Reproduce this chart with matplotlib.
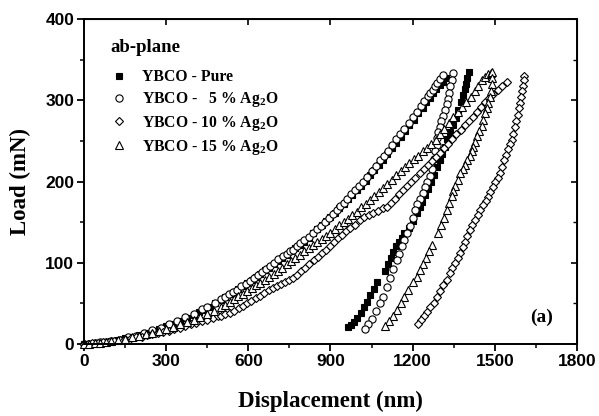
import matplotlib

matplotlib.use("Agg")
import matplotlib.pyplot as plt  # noqa: E402
from matplotlib.ticker import MultipleLocator  # noqa: E402

plt.rcParams["font.family"] = ["Liberation Serif", "DejaVu Serif"]
plt.rcParams["font.weight"] = "bold"
plt.rcParams["mathtext.fontset"] = "custom"
plt.rcParams["mathtext.rm"] = "Liberation Serif:bold"
plt.rcParams["mathtext.it"] = "Liberation Serif:bold"
plt.rcParams["mathtext.bf"] = "Liberation Serif:bold"

# --- data (displacement nm, load mN) ---
pure_load_x = [0, 25, 50, 75, 100, 125, 150, 175, 200, 225, 250, 275, 300, 325, 350, 375, 400, 420, 440,
               460, 480,
               500, 516, 532, 548, 564, 580, 596, 612, 628, 644, 660, 676, 692, 708, 724, 740, 756, 772,
               788, 804, 820, 836, 852, 868, 884, 900, 916, 932, 948, 964, 980, 996, 1012, 1028, 1044,
               1060, 1076, 1092, 1108, 1124, 1140, 1156, 1172, 1188, 1204, 1220, 1236, 1250, 1262, 1274,
               1286, 1298, 1310, 1320]
pure_load_y = [0, 0.5, 1.5, 2.5, 3.5, 5, 7, 9, 11, 13, 16, 19, 22, 25, 28, 32, 36, 39, 42,
               46, 50,
               54, 57.5, 61, 64.5, 68, 71.5, 75, 79, 83, 86.5, 90.5, 94, 98, 102, 106, 110, 114, 118,
               122, 126, 131, 136, 141, 146, 151, 156, 161, 167, 172, 178, 183, 189, 195, 201, 208,
               214, 220, 227, 234, 241, 248, 255, 262, 269, 276, 284, 291, 298, 303, 309,
               314, 319, 323, 327]
pure_unload_x = [1405, 1400, 1395, 1390, 1383, 1375, 1366, 1357, 1347, 1337, 1327, 1318, 1308, 1298, 1289,
                 1278, 1268, 1257, 1246, 1235, 1225, 1215, 1200, 1185, 1170, 1160, 1150, 1140, 1130, 1120,
                 1110, 1100, 1070, 1058, 1046, 1034, 1022, 1010, 998, 986, 975, 965]
pure_unload_y = [335, 327, 320, 314, 306, 298, 288, 278, 269, 261, 252, 243, 234, 226, 218,
                 208, 199, 191, 183, 175, 168, 161, 151, 143, 136, 130, 126, 120, 113, 106,
                 98, 90, 76, 68, 60, 52, 45, 38, 32, 27, 23, 21]

ag5_load_x = [0, 20, 40, 60, 80, 100, 130, 160, 190, 220, 250, 280, 310, 340, 370, 400, 430, 450, 480,
              500, 515, 530, 545, 560, 575, 590, 605, 620, 635, 650, 665, 680, 695, 710, 725, 740, 752,
              763, 777, 790, 805, 820, 835, 850, 865, 880, 895, 910, 922, 935, 948, 960, 975, 990, 1005,
              1020, 1035, 1050, 1065, 1081, 1095, 1110, 1125, 1140, 1155, 1170, 1185, 1201, 1215, 1230,
              1243, 1255, 1265, 1274, 1282, 1290, 1300, 1311]
ag5_load_y = [0, 0.5, 1, 2, 3, 4, 5.5, 8, 10, 13, 17, 20, 24, 28, 33, 37, 43, 46, 51,
              55, 58, 61, 64, 67, 71, 74, 78, 81, 85, 88, 92, 96, 100, 104, 108, 111, 114,
              116, 120, 124, 128, 132, 137, 141, 145, 150, 155, 160, 165, 170, 174, 178, 184, 189, 195,
              200, 206, 213, 219, 226, 232, 238, 245, 252, 258, 265, 272, 279, 286, 293,
              299, 305, 309, 313, 317, 321, 326, 331]
ag5_unload_x = [1347, 1343, 1338, 1333, 1329, 1325, 1318, 1311, 1305, 1300, 1294, 1290, 1287, 1283, 1278,
                1270, 1262, 1254, 1245, 1236, 1226, 1217, 1208, 1200, 1190, 1179, 1170, 1161, 1150, 1142,
                1130, 1118, 1105, 1092, 1080, 1065, 1050, 1038, 1026]
ag5_unload_y = [333, 325, 317, 309, 302, 296, 288, 281, 274, 267, 261, 253, 245, 237, 228,
                216, 207, 200, 193, 186, 179, 172, 165, 155, 145, 137, 128, 120, 111, 103,
                92, 81, 70, 58, 50, 40, 31, 25, 19]

ag10_load_x = [0, 15, 30, 50, 70, 90, 110, 130, 150, 170, 190, 210, 230, 250, 270, 290, 310, 330, 350,
               370, 390, 410, 430, 450, 470, 490,
               500, 516, 533, 549, 565, 580, 595, 611, 627, 643, 659, 675, 690, 705, 720, 735, 750, 763,
               778, 793, 808, 823, 838, 853, 868, 883, 898, 913, 928, 943, 958, 973, 988, 1008, 1024,
               1040, 1056, 1072, 1090, 1106, 1120, 1135, 1150, 1165, 1180, 1195, 1210, 1227, 1242, 1257,
               1272, 1286, 1300, 1315, 1330, 1345, 1360, 1375, 1390, 1405, 1420, 1435, 1450, 1465, 1480,
               1495, 1510, 1525, 1544]
ag10_load_y = [0, 0.5, 1, 1.5, 2, 3, 4, 5, 6, 7, 8, 9, 10.5, 12, 13.5, 15, 16.5, 18, 20,
               22, 24, 26, 28, 30, 32, 34,
               35, 36.5, 38, 41, 44, 47, 50, 53, 56.5, 59.5, 63, 66, 69, 71.5, 74, 76.5, 79, 81,
               85.5, 90, 94, 98.5, 103, 107.5, 112, 116, 121, 125, 130, 134, 139, 143, 147, 153, 156,
               159, 161, 164, 167, 169, 174, 179, 184, 189, 194, 199, 204, 210, 215, 220,
               225, 230, 235, 241, 246, 252, 258, 263, 269, 275, 280, 286, 292, 298, 303,
               308, 313, 318, 323]
ag10_unload_x = [1605, 1607, 1604, 1600, 1596, 1592, 1587, 1583, 1578, 1574, 1567, 1561, 1554, 1548, 1541,
                 1534, 1526, 1518, 1510, 1502, 1493, 1484, 1475, 1466, 1458, 1446, 1437, 1428, 1418, 1409,
                 1400, 1391, 1382, 1373, 1364, 1355, 1345, 1336, 1324, 1312, 1300, 1289, 1277, 1265, 1253,
                 1242, 1230, 1219]
ag10_unload_y = [330, 325, 318, 311, 304, 297, 290, 282, 274, 267, 259, 251, 246, 240, 233,
                 226, 218, 210, 204, 199, 193, 187, 181, 176, 171, 165, 159, 153, 146, 140,
                 133, 126, 119, 112, 106, 100, 93, 87, 79, 72, 65, 58, 51, 45, 39,
                 34, 29, 24]

ag15_load_x = [0, 20, 40, 60, 80, 100, 125, 150, 175, 200, 225, 250, 275, 300, 325, 350, 375, 400, 425,
               450, 475,
               500, 516, 532, 548, 564, 580, 596, 612, 628, 644, 660, 676, 692, 708, 724, 740, 756, 772,
               788, 804, 820, 836, 852, 868, 884, 900, 916, 932, 948, 964, 980, 996, 1012, 1028, 1044,
               1060, 1076, 1092, 1108, 1124, 1140, 1156, 1172, 1188, 1204, 1220, 1236, 1252, 1268, 1284,
               1300, 1316, 1332, 1348, 1364, 1380, 1396, 1412, 1426, 1440, 1453, 1465, 1476, 1486]
ag15_load_y = [0, 0.5, 1, 1.5, 2.5, 3.5, 5, 6.5, 8, 10, 12, 14, 16.5, 19, 21.5, 24, 27, 30, 33,
               37, 41,
               45, 48.5, 52, 55, 58.5, 62, 65, 68.5, 72, 75.5, 79, 82.5, 86, 90, 94, 98, 102, 106,
               110, 114, 118, 122, 126, 129.5, 133, 137, 141, 146, 150, 154, 159, 163, 168, 172, 177,
               182, 187, 192, 197, 202, 208, 213, 218, 223, 228, 232, 237, 241, 246, 251,
               258, 265, 272, 279, 286, 292, 298, 304, 311, 318, 325, 329, 332, 334]
ag15_unload_x = [1488, 1490, 1489, 1485, 1482, 1476, 1470, 1464, 1458, 1453, 1441, 1435, 1428, 1422, 1416,
                 1409, 1398, 1390, 1382, 1373, 1364, 1355, 1349, 1343, 1334, 1325, 1314, 1303, 1292, 1270,
                 1259, 1248, 1238, 1227, 1214, 1201, 1183, 1170, 1156, 1142, 1128, 1114, 1100]
ag15_unload_y = [335, 327, 320, 311, 304, 297, 290, 284, 276, 268, 262, 256, 249, 243, 237,
                 232, 226, 220, 215, 210, 202, 194, 188, 182, 174, 165, 155, 146, 137, 122,
                 114, 106, 99, 91, 83, 76, 66, 58, 50, 42, 35, 28, 22]

series_labels = ["YBCO - Pure", "YBCO -   5 % Ag$_2$O", "YBCO - 10 % Ag$_2$O", "YBCO - 15 % Ag$_2$O"]
x_ticks = [0, 300, 600, 900, 1200, 1500, 1800]
y_ticks = [0, 100, 200, 300, 400]

series = [
    (pure_load_x, pure_load_y, pure_unload_x, pure_unload_y, "s", "black", 4.6),
    (ag5_load_x, ag5_load_y, ag5_unload_x, ag5_unload_y, "o", "white", 5.2),
    (ag10_load_x, ag10_load_y, ag10_unload_x, ag10_unload_y, "D", "white", 4.3),
    (ag15_load_x, ag15_load_y, ag15_unload_x, ag15_unload_y, "^", "white", 5.4),
]

fig = plt.figure(figsize=(5.99, 4.16), dpi=100)
ax = fig.add_axes([0.1402, 0.1731, 0.8231, 0.7812])

handles = []
for (lx, ly, ux, uy, mk, fc, ms), lab in zip(series, series_labels):
    style = dict(ls="none", marker=mk, ms=ms, mfc=fc, mec="black", mew=0.8, clip_on=False)
    h, = ax.plot(lx, ly, label=lab, **style)
    ax.plot(ux, uy, **style)
    handles.append(h)

ax.set_xlim(0, 1800)
ax.set_ylim(0, 400)
ax.set_xticks(x_ticks)
ax.set_xticklabels([str(t) for t in x_ticks], fontfamily="Liberation Sans", fontweight="bold", fontsize=12.5)
ax.set_yticks(y_ticks)
ax.set_yticklabels([str(t) for t in y_ticks], fontfamily="Liberation Sans", fontweight="bold", fontsize=12.5)
ax.xaxis.set_minor_locator(MultipleLocator(150))
ax.yaxis.set_minor_locator(MultipleLocator(50))
ax.tick_params(which="major", direction="out", length=5, width=1.3, pad=2, top=False, right=False)
ax.tick_params(which="minor", direction="out", length=3, width=1.1, top=False, right=False)
for sp in ax.spines.values():
    sp.set_linewidth(1.4)

# top / right axes: inward ticks, no labels
sec_x = ax.secondary_xaxis("top")
sec_x.set_xticks(x_ticks)
sec_x.tick_params(direction="in", length=4, width=1.2, labeltop=False)
sec_y = ax.secondary_yaxis("right")
sec_y.set_yticks(y_ticks)
sec_y.yaxis.set_minor_locator(MultipleLocator(50))
sec_y.tick_params(which="major", direction="in", length=4, width=1.2, labelright=False)
sec_y.tick_params(which="minor", direction="in", length=3, width=1.0)

ax.set_xlabel("Displacement (nm)", fontsize=16.5, fontweight="bold", labelpad=16)
ax.set_ylabel("Load (mN)", fontsize=16.5, fontweight="bold", labelpad=10)

ax.text(0.053, 0.911, "ab-plane", transform=ax.transAxes, fontsize=13.5, fontweight="bold",
        ha="left", va="center")
ax.text(0.929, 0.083, "(a)", transform=ax.transAxes, fontsize=14, fontweight="bold",
        ha="center", va="center")

ax.legend(handles=handles, loc="upper left", bbox_to_anchor=(0.055, 0.845), frameon=False,
          borderpad=0, borderaxespad=0, handlelength=1.0, handletextpad=1.0,
          labelspacing=0.3, prop={"weight": "bold", "size": 11.3})

fig.savefig("out.png", dpi=100)
